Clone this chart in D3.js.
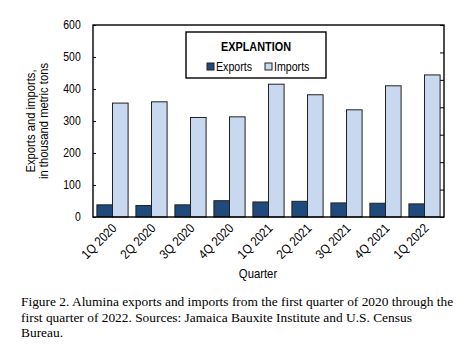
<!DOCTYPE html>
<html>
<head>
<meta charset="utf-8">
<script src="https://cdn.jsdelivr.net/npm/d3@7"></script>
<style>
  body { margin: 0; background: #fff; }
  text { font-family: "Liberation Sans", Arial, sans-serif; fill: #000; }
  .caption { font-family: "Liberation Serif", "Times New Roman", serif; font-size: 13.4px; }
</style>
</head>
<body>
<svg id="chart" width="475" height="344"></svg>
<script>
const quarters = ["1Q 2020", "2Q 2020", "3Q 2020", "4Q 2020", "1Q 2021", "2Q 2021", "3Q 2021", "4Q 2021", "1Q 2022"]
const exportsKt = [38, 36, 38, 51, 47, 49, 44, 43, 41]
const importsKt = [356, 360, 311, 313, 415, 382, 335, 410, 444]
const yTicks = [0, 100, 200, 300, 400, 500, 600]
const seriesNames = ["Exports", "Imports"]
const seriesColors = ["#1f4a7c", "#c8d9ef"]
const captionLines = [
  "Figure 2. Alumina exports and imports from the first quarter of 2020 through the",
  "first quarter of 2022. Sources: Jamaica Bauxite Institute and U.S. Census",
  "Bureau."
]

// the sans labels are set condensed, like Arial Narrow
const NARROW = 0.87

const svg = d3.select("#chart")
const plot = { left: 93, right: 444, top: 25, bottom: 217 }

const x = d3.scaleBand().domain(quarters).range([plot.left, plot.right]).paddingInner(0.2).paddingOuter(0.1)
const xSub = d3.scaleBand().domain(seriesNames).range([0, x.bandwidth()])
const y = d3.scaleLinear().domain([0, 600]).range([plot.bottom, plot.top])
// right-hand frame carries its own unlabeled tick spacing
const yRight = d3.scaleLinear().domain([0, 700]).range([plot.bottom, plot.top])

const rows = quarters.map((q, i) => ({ q, values: [exportsKt[i], importsKt[i]] }))

// bars
svg.append("g")
  .selectAll("g")
  .data(rows)
  .join("g")
  .attr("transform", d => `translate(${x(d.q)},0)`)
  .selectAll("rect")
  .data(d => d.values.map((v, j) => ({ name: seriesNames[j], v, j })))
  .join("rect")
  .attr("x", d => xSub(d.name))
  .attr("y", d => y(d.v))
  .attr("width", xSub.bandwidth())
  .attr("height", d => y(0) - y(d.v))
  .attr("fill", d => seriesColors[d.j])
  .attr("stroke", "#222")
  .attr("stroke-width", 1)

// left axis, ticks pointing inward
const yAxis = svg.append("g")
  .attr("transform", `translate(${plot.left},0)`)
  .call(d3.axisLeft(y).tickValues(yTicks).tickSizeInner(-3).tickSizeOuter(0))
yAxis.select(".domain").remove()
yAxis.selectAll("line").attr("stroke", "#000")
yAxis.selectAll("text")
  .attr("font-size", 12)
  .attr("transform", `scale(${NARROW},1)`)
  .attr("x", -12.3 / NARROW)

const yAxisR = svg.append("g")
  .attr("transform", `translate(${plot.right},0)`)
  .call(d3.axisRight(yRight).ticks(7).tickSizeInner(-4).tickSizeOuter(0).tickFormat(""))
yAxisR.select(".domain").remove()
yAxisR.selectAll("line").attr("stroke", "#000")

// frame
svg.append("rect")
  .attr("x", plot.left).attr("y", plot.top)
  .attr("width", plot.right - plot.left).attr("height", plot.bottom - plot.top)
  .attr("fill", "none").attr("stroke", "#000").attr("stroke-width", 1.4)

// quarter labels
const xAxis = svg.append("g")
  .attr("transform", `translate(0,${plot.bottom})`)
  .call(d3.axisBottom(x).tickSize(0).tickPadding(0))
xAxis.select(".domain").remove()
xAxis.selectAll("text")
  .attr("font-size", 13)
  .attr("text-anchor", "end")
  .attr("dy", 0)
  .attr("y", 0)
  .attr("transform", `translate(5,12) rotate(-45) scale(${NARROW},1)`)

svg.append("text")
  .attr("transform", `translate(258,278) scale(${NARROW},1)`)
  .attr("text-anchor", "middle")
  .attr("font-size", 13)
  .text("Quarter")

// y title
const yTitle = svg.append("text")
  .attr("transform", `translate(35,${(plot.top + plot.bottom) / 2}) rotate(-90) scale(0.9,1)`)
  .attr("text-anchor", "middle")
  .attr("font-size", 12.5)
yTitle.append("tspan").attr("x", 0).attr("dy", 0).text("Exports and imports,")
yTitle.append("tspan").attr("x", 0).attr("dy", 13.5).text("in thousand metric tons")

// legend
const legend = svg.append("g")
legend.append("rect")
  .attr("x", 186).attr("y", 32).attr("width", 140).attr("height", 46)
  .attr("fill", "#fff").attr("stroke", "#000").attr("stroke-width", 1.4)
legend.append("text")
  .attr("transform", `translate(256,51) scale(${NARROW},1)`)
  .attr("text-anchor", "middle")
  .attr("font-size", 12.5).attr("font-weight", "bold")
  .text("EXPLANTION")
const itemX = [207, 265]
seriesNames.forEach((name, j) => {
  legend.append("rect")
    .attr("x", itemX[j]).attr("y", 63).attr("width", 7).attr("height", 7)
    .attr("fill", seriesColors[j]).attr("stroke", "#222").attr("stroke-width", 1)
  legend.append("text")
    .attr("transform", `translate(${itemX[j] + 9},70.5) scale(0.85,1)`)
    .attr("font-size", 12.5)
    .text(name)
})

// caption
svg.append("g").selectAll("text")
  .data(captionLines)
  .join("text")
  .attr("class", "caption")
  .attr("x", 21)
  .attr("y", (d, i) => 306 + i * 15.5)
  .text(d => d)
</script>
</body>
</html>
